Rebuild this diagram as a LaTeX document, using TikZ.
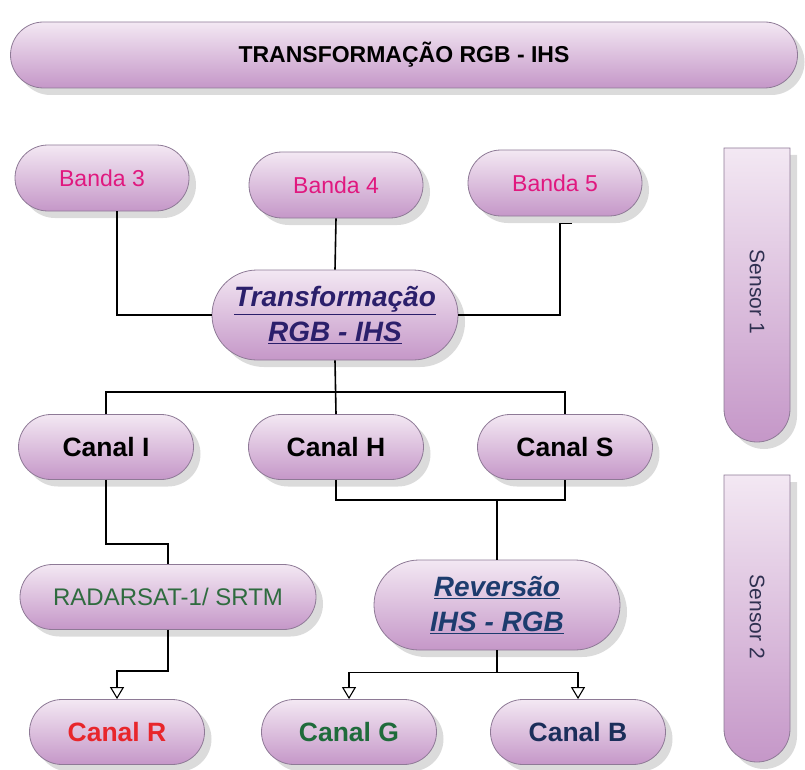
\documentclass[tikz,border=0pt]{standalone}
\usepackage{fontspec}
\setmainfont{Liberation Sans}
\usepackage{tikz}
\usetikzlibrary{positioning}
\usetikzlibrary{shadows}
\usetikzlibrary{shapes.misc}
\usetikzlibrary{arrows.meta}
\definecolor{boxtop}{HTML}{F3E8F3}
\definecolor{boxbottom}{HTML}{C597C8}
\definecolor{boxborder}{HTML}{8E7A96}
\definecolor{bandatext}{HTML}{E0187F}
\definecolor{transftext}{HTML}{2B1F6B}
\definecolor{revtext}{HTML}{1D3C6E}
\definecolor{radartext}{HTML}{2F6B3F}
\definecolor{redtext}{HTML}{E8262B}
\definecolor{greentext}{HTML}{1F6B3B}
\definecolor{bluetext}{HTML}{1B2E5A}
\definecolor{sensortext}{HTML}{2F3050}
\newcommand{\fsz}[1]{\fontsize{#1}{#1}\selectfont}

\begin{document}
\begin{tikzpicture}[x=1pt, y=1pt,
boxfill/.style={draw=boxborder, line width=0.8pt, top color=boxtop, bottom color=boxbottom, drop shadow={shadow xshift=7pt, shadow yshift=-7pt, fill=black!28}},
boxnode/.style={rounded rectangle, boxfill, inner sep=0pt, align=center, minimum height=65pt},
bandanode/.style={boxnode, minimum width=174pt, minimum height=66pt, text=bandatext, font=\fsz{23}},
canalnode/.style={boxnode, minimum width=175pt, font=\fsz{26.5}\bfseries},
bignode/.style={boxnode, minimum width=246pt, minimum height=90pt, font=\fsz{28}\bfseries\itshape},
sensornode/.style={rotate=-90, inner sep=0pt, text=sensortext, font=\fsz{21}},
link/.style={line width=1.6pt},
arrowlink/.style={line width=1.3pt, -{Triangle[open, length=12pt, width=14pt, line width=1.1pt]}},
]
\useasboundingbox (0,0) rectangle (805,-770);
%Sensor bars
\path[boxfill] (724,-148) -- (790,-148) -- (790,-409) arc (0:-180:33) -- cycle;
\path[boxfill] (724,-475) -- (790,-475) -- (790,-729) arc (0:-180:33) -- cycle;

%Nodes
\node[boxnode, minimum width=787pt, minimum height=66pt, font=\fsz{23}\bfseries]	(title)	at (404,-55)	{TRANSFORMAÇÃO RGB - IHS};
\node[bandanode]	(banda3)	at (102,-178)	{Banda 3};
\node[bandanode]	(banda4)	at (336,-185)	{Banda 4};
\node[bandanode]	(banda5)	at (555,-183)	{Banda 5};
\node[bignode, text=transftext]	(transf)	at (335,-315)	{\underline{Transformação}\\[7pt]\underline{RGB - IHS}};
\node[canalnode]	(canalI)	at (106,-447)	{Canal I};
\node[canalnode]	(canalH)	at (336,-447)	{Canal H};
\node[canalnode]	(canalS)	at (565,-447)	{Canal S};
\node[boxnode, minimum width=296pt, text=radartext, font=\fsz{24}]	(radarsat)	at (168,-597)	{RADARSAT-1/ SRTM};
\node[bignode, text=revtext]	(reversao)	at (497,-605)	{\underline{Reversão}\\[7pt]\underline{IHS - RGB}};
\node[canalnode, text=redtext]	(canalR)	at (117,-732)	{Canal R};
\node[canalnode, text=greentext]	(canalG)	at (349,-732)	{Canal G};
\node[canalnode, text=bluetext]	(canalB)	at (578,-732)	{Canal B};
\node[sensornode]	(sensor1)	at (757,-292)	{Sensor 1};
\node[sensornode]	(sensor2)	at (757,-617)	{Sensor 2};

%Lines
\draw[link] ([xshift=15pt]banda3.south) |- (transf.west);
\draw[link] (banda4.south) -- (transf.north);
\draw[link] ([xshift=17pt, yshift=-7pt]banda5.south) -- ++(-12,0) |- (transf.east);
\draw[link] (transf.south) -- (canalH.north);
\draw[link] (canalI.north) |- ([yshift=22pt]canalS.north) -- (canalS.north);
\draw[link] (canalH.south) |- ([yshift=-20pt]canalS.south) -- (canalS.south);
\draw[link] (reversao.north) -- ++(0,60);
\draw[link] (canalI.south) |- ([yshift=20pt]radarsat.north) -- (radarsat.north);
\draw[arrowlink] (radarsat.south) |- ([yshift=28pt]canalR.north) -- (canalR.north);
\draw[link] (reversao.south) -- ++(0,-22) coordinate (split);
\draw[arrowlink] (split) -| (canalG.north);
\draw[arrowlink] (split) -| (canalB.north);
\end{tikzpicture}
\end{document}
